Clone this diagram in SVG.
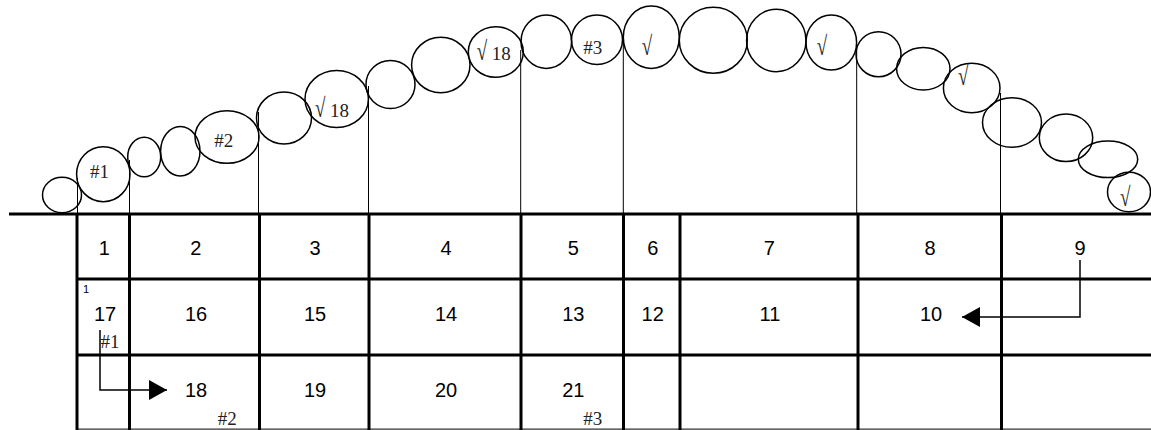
<svg xmlns="http://www.w3.org/2000/svg" width="1151" height="430" viewBox="0 0 1151 430">
<style>
.c{fill:none;stroke:#000;stroke-width:1.5}
.v{stroke:#000;stroke-width:1}
.t{stroke:#000;stroke-width:3;fill:none}
.n{font-family:"Liberation Sans",Arial,sans-serif;font-size:20px;text-anchor:middle;fill:#000}
.s{font-family:"Liberation Serif","Times New Roman",serif;font-size:19px;fill:#222}
.sm{font-family:"Liberation Sans",Arial,sans-serif;font-size:11px;fill:#000}
.a{stroke:#000;stroke-width:1.5;fill:none}
</style>
<defs>
<marker id="ah" markerUnits="userSpaceOnUse" markerWidth="20" markerHeight="22" refX="18" refY="10" orient="auto">
<path d="M0,0 L18,10 L0,20 Z" fill="#000"/>
</marker>
</defs>
<rect width="1151" height="430" fill="#fff"/>
<g id="guides">
<line class="v" x1="77.5" y1="178" x2="77.5" y2="214"/>
<line class="v" x1="129.5" y1="160" x2="129.5" y2="214"/>
<line class="v" x1="258.5" y1="112" x2="258.5" y2="214"/>
<line class="v" x1="368.5" y1="86" x2="368.5" y2="214"/>
<line class="v" x1="520.7" y1="50" x2="520.7" y2="214"/>
<line class="v" x1="623.3" y1="34" x2="623.3" y2="214"/>
<line class="v" x1="856.7" y1="44" x2="856.7" y2="214"/>
<line class="v" x1="1000.5" y1="93" x2="1000.5" y2="214"/>
</g>
<g id="arc">
<g id="b1"><ellipse class="c" cx="62" cy="195" rx="19.5" ry="17.7"/></g>
<g id="b2"><ellipse class="c" cx="103.3" cy="174.2" rx="26.7" ry="27.5"/><text class="s" x="90" y="178">#1</text></g>
<g id="b3"><ellipse class="c" cx="144.2" cy="157" rx="16.5" ry="19.7"/></g>
<g id="b4"><ellipse class="c" cx="180.3" cy="151.3" rx="19.7" ry="24.7"/></g>
<g id="b5"><ellipse class="c" cx="227" cy="137" rx="32" ry="26.3"/><text class="s" x="214.3" y="146.7">#2</text></g>
<g id="b6"><ellipse class="c" cx="284" cy="118" rx="27.5" ry="26"/></g>
<g id="b7"><ellipse class="c" cx="336.7" cy="99" rx="31.7" ry="28.5"/><text class="s" transform="translate(315,117) scale(1,1.4)">√</text><text class="s" x="330" y="117">18</text></g>
<g id="b8"><ellipse class="c" cx="390.5" cy="84.5" rx="24.5" ry="24"/></g>
<g id="b9"><ellipse class="c" cx="440.8" cy="65" rx="29.2" ry="27.7"/></g>
<g id="b10"><ellipse class="c" cx="495.8" cy="52" rx="27.5" ry="25.3"/><text class="s" transform="translate(476.7,60) scale(1,1.4)">√</text><text class="s" x="491.7" y="60">18</text></g>
<g id="b11"><ellipse class="c" cx="546.3" cy="41.7" rx="25.3" ry="26.7"/></g>
<g id="b12"><ellipse class="c" cx="597" cy="39.7" rx="25.5" ry="24.7"/><text class="s" x="583.3" y="54">#3</text></g>
<g id="b13"><ellipse class="c" cx="651.3" cy="37.2" rx="28" ry="31.2"/><text class="s" transform="translate(641.7,55) scale(1,1.4)">√</text></g>
<g id="b14"><ellipse class="c" cx="713.3" cy="40.3" rx="34" ry="33"/></g>
<g id="b15"><ellipse class="c" cx="776.3" cy="40.5" rx="29.7" ry="31.2"/></g>
<g id="b16"><ellipse class="c" cx="831.3" cy="42.5" rx="25.3" ry="27.5"/><text class="s" transform="translate(816.7,55) scale(1,1.4)">√</text></g>
<g id="b17"><ellipse class="c" cx="878.5" cy="54.2" rx="22.5" ry="22.5"/></g>
<g id="b18"><ellipse class="c" cx="923.3" cy="68.7" rx="26.7" ry="21.3"/></g>
<g id="b19"><ellipse class="c" cx="971.7" cy="88" rx="28.3" ry="24.7"/><text class="s" transform="translate(958,85) scale(1,1.4)">√</text></g>
<g id="b20"><ellipse class="c" cx="1012" cy="122.5" rx="29.5" ry="24.8"/></g>
<g id="b21"><ellipse class="c" cx="1066" cy="137.8" rx="26.7" ry="23.8"/></g>
<g id="b22"><ellipse class="c" cx="1108" cy="159.3" rx="29.7" ry="18.3"/></g>
<g id="b23"><ellipse class="c" cx="1129" cy="192" rx="21.5" ry="19.7"/><text class="s" transform="translate(1120,206) scale(1,1.4)">√</text></g>
</g>
<g id="table">
<line class="t" x1="9" y1="214" x2="1151" y2="214"/>
<line class="t" x1="76" y1="279" x2="1151" y2="279"/>
<line class="t" x1="76" y1="355" x2="1151" y2="355"/>
<line x1="76" y1="429.2" x2="1151" y2="429.2" stroke="#333" stroke-width="1.2"/>
<line class="t" x1="77" y1="213" x2="77" y2="430"/>
<line class="t" x1="129.5" y1="213" x2="129.5" y2="430" stroke-width="2.5"/>
<line class="t" x1="259.5" y1="213" x2="259.5" y2="430"/>
<line class="t" x1="369" y1="213" x2="369" y2="430"/>
<line class="t" x1="521" y1="213" x2="521" y2="430"/>
<line class="t" x1="623.5" y1="213" x2="623.5" y2="430"/>
<line class="t" x1="680" y1="213" x2="680" y2="430"/>
<line class="t" x1="858" y1="213" x2="858" y2="430"/>
<line class="t" x1="1001.5" y1="213" x2="1001.5" y2="430"/>
</g>
<g id="cells">
<g id="cell1"><text class="n" x="104.3" y="255">1</text></g>
<g id="cell2"><text class="n" x="195.7" y="255">2</text></g>
<g id="cell3"><text class="n" x="315" y="255">3</text></g>
<g id="cell4"><text class="n" x="446" y="255">4</text></g>
<g id="cell5"><text class="n" x="573.3" y="255">5</text></g>
<g id="cell6"><text class="n" x="652.7" y="255">6</text></g>
<g id="cell7"><text class="n" x="769.3" y="255">7</text></g>
<g id="cell8"><text class="n" x="930" y="255">8</text></g>
<g id="cell9"><text class="n" x="1080" y="255">9</text></g>
<g id="cell17"><text class="sm" x="83" y="293">1</text><text class="n" x="105" y="321">17</text><text class="s" x="100.5" y="348">#1</text></g>
<g id="cell16"><text class="n" x="196" y="321">16</text></g>
<g id="cell15"><text class="n" x="315" y="321">15</text></g>
<g id="cell14"><text class="n" x="446" y="321">14</text></g>
<g id="cell13"><text class="n" x="573.3" y="321">13</text></g>
<g id="cell12"><text class="n" x="652.7" y="321">12</text></g>
<g id="cell11"><text class="n" x="770" y="321">11</text></g>
<g id="cell10"><text class="n" x="931" y="321">10</text></g>
<g id="cell18"><text class="n" x="196" y="397">18</text><text class="s" x="217.7" y="425">#2</text></g>
<g id="cell19"><text class="n" x="315" y="397">19</text></g>
<g id="cell20"><text class="n" x="446" y="397">20</text></g>
<g id="cell21"><text class="n" x="573.3" y="397">21</text><text class="s" x="583.3" y="425">#3</text></g>
</g>
<g id="connectors">
<path class="a" d="M100,330 V390 H167" marker-end="url(#ah)"/>
<path class="a" d="M1080,260 V317 H962" marker-end="url(#ah)"/>
</g>
</svg>
